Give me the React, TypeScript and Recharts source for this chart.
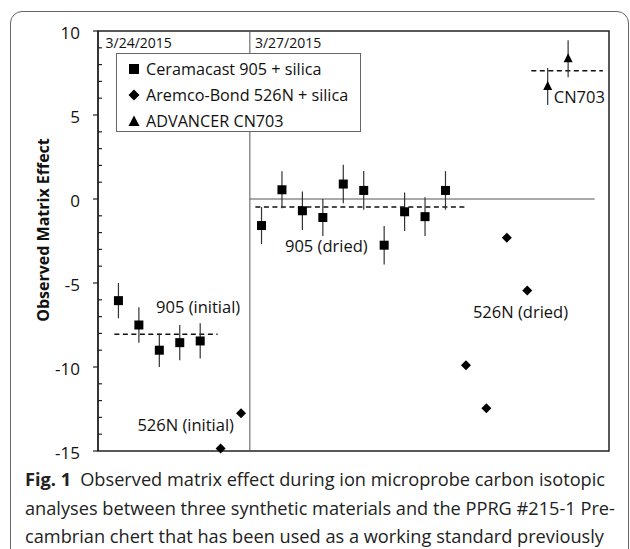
import React from 'react';
import {
  ComposedChart,
  Scatter,
  XAxis,
  YAxis,
  ErrorBar,
  ReferenceLine,
  ReferenceArea,
  ReferenceDot,
  Legend,
  Label,
} from 'recharts';

// ---- data ----
const seriesNames = ['Ceramacast 905 + silica', 'Aremco-Bond 526N + silica', 'ADVANCER CN703'];

const squareX = [1, 2, 3, 4, 5, 8, 9, 10, 11, 12, 13, 14, 15, 16, 17];
const squareY = [-6.05, -7.5, -9.0, -8.55, -8.45, -1.58, 0.55, -0.7, -1.1, 0.89, 0.51, -2.75, -0.76, -1.05, 0.51];
const squareErr = [1.05, 1.05, 1.0, 1.05, 1.05, 1.1, 1.1, 1.15, 1.1, 1.15, 1.15, 1.15, 1.15, 1.15, 1.15];

const diamondX = [6, 7, 18, 19, 20, 21];
const diamondY = [-14.85, -12.75, -9.9, -12.45, -2.3, -5.45];

const triangleX = [22, 23];
const triangleY = [6.7, 8.35];
const triangleErr = [1.1, 1.1];

const yMajorTicks = [-15, -10, -5, 0, 5, 10];
const yAllTicks = [-15, -14, -13, -12, -11, -10, -9, -8, -7, -6, -5, -4, -3, -2, -1, 0, 1, 2, 3, 4, 5, 6, 7, 8, 9, 10];

// mean lines: [xStart, xEnd, y]
const meanInitial = [0.8, 5.85, -8.05];
const meanDried = [7.7, 18.0, -0.48];
const meanCN = [21.2, 24.7, 7.63];

const dateSplit = 7.43;
const zeroLineEnd = 24.3;

const annotations = [
  { x: 4.9, y: -6.45, text: '905 (initial)' },
  { x: 4.29, y: -13.47, text: '526N (initial)' },
  { x: 11.17, y: -2.81, text: '905 (dried)' },
  { x: 20.67, y: -6.71, text: '526N (dried)' },
  { x: 23.55, y: 6.06, text: 'CN703' },
  { x: 1.99, y: 9.27, text: '3/24/2015' },
  { x: 9.3, y: 9.27, text: '3/27/2015' },
];

const captionLines = [
  'Observed matrix effect during ion microprobe carbon isotopic',
  'analyses between three synthetic materials and the PPRG #215-1 Pre-',
  'cambrian chert that has been used as a working standard previously',
];

const squares = squareX.map((x, i) => ({ x, y: squareY[i], err: squareErr[i] }));
const diamonds = diamondX.map((x, i) => ({ x, y: diamondY[i] }));
const triangles = triangleX.map((x, i) => ({ x, y: triangleY[i], err: triangleErr[i] }));

const FONT = '"Open Sans", sans-serif';
const INK = '#111';

const SquareShape = (p: any) => <rect x={p.cx - 4.5} y={p.cy - 4.5} width={9} height={9} fill="#000" />;
const DiamondShape = (p: any) => (
  <polygon points={`${p.cx},${p.cy - 5} ${p.cx + 5},${p.cy} ${p.cx},${p.cy + 5} ${p.cx - 5},${p.cy}`} fill="#000" />
);
const TriangleShape = (p: any) => (
  <polygon points={`${p.cx},${p.cy - 5.5} ${p.cx + 4.5},${p.cy + 3.5} ${p.cx - 4.5},${p.cy + 3.5}`} fill="#000" />
);

const legendIcon = (type: string) => {
  if (type === 'square') return <rect x={1} y={1} width={10} height={10} fill="#000" />;
  if (type === 'diamond') return <polygon points="6,0.5 11.5,6 6,11.5 0.5,6" fill="#000" />;
  return <polygon points="6,0.5 11.5,11 0.5,11" fill="#000" />;
};

const LegendBox = (props: any) => {
  const payload = [...(props.payload || [])].sort(
    (a: any, b: any) => seriesNames.indexOf(a.value) - seriesNames.indexOf(b.value)
  );
  return (
    <div
      style={{
        width: 245,
        height: 79,
        boxSizing: 'border-box',
        border: '1.3px solid #666',
        background: '#fff',
        paddingTop: 2,
        fontFamily: FONT,
        fontSize: 16.2,
        color: INK,
      }}
    >
      {payload.map((item: any, i: number) => (
        <div key={i} style={{ display: 'flex', alignItems: 'center', height: 26 }}>
          <svg width={12} height={12} style={{ marginLeft: 11, marginRight: 6 }}>
            {legendIcon(item.type)}
          </svg>
          <span style={{ whiteSpace: 'nowrap' }}>{item.value}</span>
        </div>
      ))}
    </div>
  );
};

const YTick = (props: any) => {
  const { x, y, payload } = props;
  const v = payload.value;
  if (yMajorTicks.includes(v)) {
    return (
      <g>
        <line x1={x - 5} x2={x} y1={y} y2={y} stroke="#222" strokeWidth={1.2} />
        <text x={x - 18} y={y + 1} textAnchor="end" dominantBaseline="central" fontFamily={FONT} fontSize={17} fill={INK}>
          {v}
        </text>
      </g>
    );
  }
  return <line x1={x} x2={x + 4} y1={y} y2={y} stroke="#222" strokeWidth={1.2} />;
};

const YLabel = (props: any) => {
  const vb = props.viewBox;
  const cx = vb.x + 5;
  const cy = vb.y + vb.height / 2 - 11;
  return (
    <text
      x={cx}
      y={cy}
      transform={`rotate(-90 ${cx} ${cy})`}
      textAnchor="middle"
      dominantBaseline="central"
      fontFamily={FONT}
      fontWeight="bold"
      fontSize={16}
      fill={INK}
    >
      Observed Matrix Effect
    </text>
  );
};

export default function App() {
  return (
    <div
      style={{
        position: 'absolute',
        left: 0,
        top: 0,
        width: 630,
        height: 549,
        overflow: 'hidden',
        background: '#fff',
      }}
    >
      <div
        style={{
          position: 'absolute',
          left: 10,
          top: 11,
          width: 619,
          height: 600,
          boxSizing: 'border-box',
          border: '1.5px solid #666',
          borderRadius: 12,
        }}
      />
      <div style={{ position: 'absolute', left: 0, top: 0 }}>
        <ComposedChart width={630} height={472} margin={{ top: 31, right: 21, bottom: 21, left: 38 }}>
          <XAxis type="number" dataKey="x" domain={[0, 25]} hide />
          <YAxis
            type="number"
            domain={[-15, 10]}
            ticks={yAllTicks}
            interval={0}
            width={60}
            tickSize={0}
            tickMargin={0}
            tickLine={false}
            axisLine={{ stroke: '#222', strokeWidth: 1.3 }}
            tick={<YTick />}
          >
            <Label content={<YLabel />} />
          </YAxis>
          <ReferenceArea x1={0} x2={25} y1={-15} y2={10} fill="none" stroke="#222" strokeWidth={1.5} />
          <ReferenceLine x={dateSplit} stroke="#555" strokeWidth={1} />
          <ReferenceLine
            segment={[
              { x: dateSplit, y: 0 },
              { x: zeroLineEnd, y: 0 },
            ]}
            stroke="#555"
            strokeWidth={1}
          />
          {[meanInitial, meanDried, meanCN].map((m, i) => (
            <ReferenceLine
              key={i}
              segment={[
                { x: m[0], y: m[2] },
                { x: m[1], y: m[2] },
              ]}
              stroke="#111"
              strokeWidth={1.6}
              strokeDasharray="5 3.5"
            />
          ))}
          {annotations.map((a, i) => (
            <ReferenceDot
              key={i}
              x={a.x}
              y={a.y}
              r={0}
              fill="none"
              stroke="none"
              label={{
                value: a.text,
                position: 'center',
                fill: INK,
                fontFamily: FONT,
                fontSize: a.text.includes('/') ? 14 : 16.5,
              }}
            />
          ))}
          <Scatter name={seriesNames[0]} data={squares} dataKey="y" legendType="square" fill="#000" shape={SquareShape} isAnimationActive={false}>
            <ErrorBar dataKey="err" direction="y" width={0} stroke="#333" strokeWidth={1.2} />
          </Scatter>
          <Scatter name={seriesNames[1]} data={diamonds} dataKey="y" legendType="diamond" fill="#000" shape={DiamondShape} isAnimationActive={false} />
          <Scatter name={seriesNames[2]} data={triangles} dataKey="y" legendType="triangle" fill="#000" shape={TriangleShape} isAnimationActive={false}>
            <ErrorBar dataKey="err" direction="y" width={0} stroke="#333" strokeWidth={1.2} />
          </Scatter>
          <Legend
            layout="horizontal"
            verticalAlign="middle"
            align="center"
            content={<LegendBox />}
            wrapperStyle={{ left: 116, top: 53, width: 'auto', height: 'auto' }}
          />
        </ComposedChart>
      </div>
      <div
        style={{
          position: 'absolute',
          left: 25,
          top: 465,
          fontFamily: FONT,
          fontSize: 18.2,
          lineHeight: '28.5px',
          color: '#222',
          whiteSpace: 'nowrap',
        }}
      >
        {captionLines.map((line, i) => (
          <div key={i}>
            {i === 0 ? <b>Fig. 1</b> : null}
            {i === 0 ? '\u2002' : ''}
            {line}
          </div>
        ))}
      </div>
    </div>
  );
}
